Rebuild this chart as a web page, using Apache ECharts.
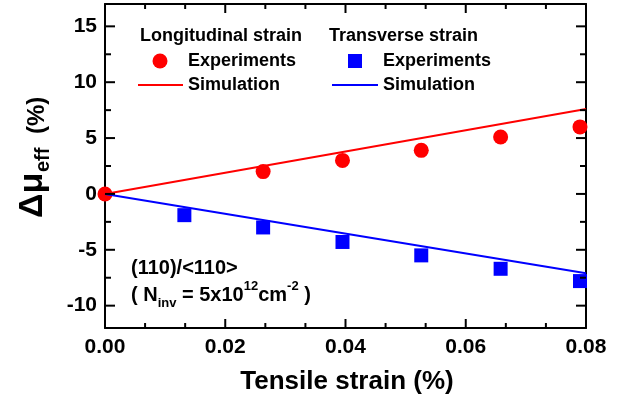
<!DOCTYPE html>
<html>
<head>
<meta charset="UTF-8">
<title>Tensile strain vs mobility</title>
<script src="https://cdn.jsdelivr.net/npm/echarts@6/dist/echarts.min.js"></script>
<style>
  html, body { margin: 0; padding: 0; background: #fff; }
  #main { width: 624px; height: 407px; }
</style>
</head>
<body>
<div id="main"></div>
<script>
// strain values (%) where the measurements were taken
var longStrain = [0, 0.0263, 0.0395, 0.0526, 0.0658, 0.079];
var longExp = [0, 2.0, 3.0, 3.9, 5.1, 6.0];
var transStrain = [0.0132, 0.0263, 0.0395, 0.0526, 0.0658, 0.079];
var transExp = [-1.9, -3.0, -4.3, -5.5, -6.7, -7.8];
// simulation lines
var simStrain = [0, 0.08];
var longSim = [0, 7.6];
var transSim = [0, -7.1];
// ticks
var xMajor = [0, 0.02, 0.04, 0.06, 0.08];
var yMajor = [-10, -5, 0, 5, 10, 15];
var yMinor = [-7.5, -2.5, 2.5, 7.5, 12.5];
var X_MIN = 0, X_MAX = 0.08, Y_MIN = -12, Y_MAX = 17;

function pairs(xs, ys) {
  return xs.map(function (x, i) { return [x, ys[i]]; });
}

// x minor ticks: two between each pair of major ticks
var xMinor = [];
for (var i = 0; i < xMajor.length - 1; i++) {
  var step = (xMajor[i + 1] - xMajor[i]) / 3;
  xMinor.push(xMajor[i] + step, xMajor[i] + 2 * step);
}

// inward tick marks on all four sides of the frame
var ticks = [];
function addTicks(vals, side, len) {
  vals.forEach(function (v) { ticks.push({ v: v, side: side, len: len }); });
}
addTicks(xMajor, 'bottom', 9); addTicks(xMinor, 'bottom', 5);
addTicks(xMajor, 'top', 9); addTicks(xMinor, 'top', 5);
addTicks(yMajor, 'left', 10); addTicks(yMinor, 'left', 6);
addTicks(yMajor, 'right', 10); addTicks(yMinor, 'right', 6);

var FONT = '"Liberation Sans", Arial, sans-serif';
var BLACK = '#000';
var chart = echarts.init(document.getElementById('main'));

var tickLabel = { fontFamily: FONT, fontWeight: 'bold', fontSize: 21, color: BLACK };
var frameLine = { show: true, onZero: false, lineStyle: { color: BLACK, width: 2 } };

var txt = { fontFamily: FONT, fontWeight: 'bold', fontSize: 18, fill: BLACK, verticalAlign: 'middle' };
function label(x, y, s, extra) {
  return { type: 'text', x: x, y: y, style: Object.assign({ text: s }, txt, extra || {}) };
}

var graphics = [
  // legend block
  label(140, 36, 'Longitudinal strain'),
  { type: 'circle', shape: { cx: 160, cy: 61, r: 7.5 }, style: { fill: '#ff0000' } },
  label(188, 61, 'Experiments'),
  { type: 'line', shape: { x1: 138, y1: 85, x2: 183, y2: 85 }, style: { stroke: '#ff0000', lineWidth: 2 } },
  label(188, 85, 'Simulation'),
  label(329, 36, 'Transverse strain'),
  { type: 'rect', shape: { x: 348, y: 54, width: 14, height: 14 }, style: { fill: '#0000ff' } },
  label(383, 61, 'Experiments'),
  { type: 'line', shape: { x1: 332, y1: 85, x2: 378, y2: 85 }, style: { stroke: '#0000ff', lineWidth: 2 } },
  label(383, 85, 'Simulation'),
  // annotation
  label(131, 268, '(110)/<110>', { fontSize: 20 }),
  { type: 'text', x: 131, y: 280, style: {
      text: '{m|( N}{s|inv}{m| = 5x10}{u|12}{m|cm}{u|-2}{m| )}',
      verticalAlign: 'top', fill: BLACK,
      rich: {
        m: { fontFamily: FONT, fontWeight: 'bold', fontSize: 20, lineHeight: 30, color: BLACK },
        s: { fontFamily: FONT, fontWeight: 'bold', fontSize: 13, lineHeight: 10, verticalAlign: 'bottom', color: BLACK },
        u: { fontFamily: FONT, fontWeight: 'bold', fontSize: 13, lineHeight: 17, verticalAlign: 'top', color: BLACK }
      }
  } },
  // y axis title, rotated
  { type: 'group', x: 45, y: 218, rotation: Math.PI / 2, children: [
    { type: 'text', x: 0, y: -12, style: { text: '\u0394\u03bc', fontFamily: FONT, fontWeight: 'bold', fontSize: 34, fill: BLACK, verticalAlign: 'middle' } },
    { type: 'text', x: 46, y: -2, style: { text: 'eff', fontFamily: FONT, fontWeight: 'bold', fontSize: 20, fill: BLACK, verticalAlign: 'middle' } },
    { type: 'text', x: 84, y: -8, style: { text: '(%)', fontFamily: FONT, fontWeight: 'bold', fontSize: 24, fill: BLACK, verticalAlign: 'middle' } }
  ] },
  // x axis title
  { type: 'text', x: 347, y: 382, style: { text: 'Tensile strain (%)', fontFamily: FONT, fontWeight: 'bold', fontSize: 26, fill: BLACK, align: 'center', verticalAlign: 'middle' } }
];

var option = {
  animation: false,
  grid: { left: 105, right: 38, top: 4, bottom: 79 },
  xAxis: [
    { type: 'value', position: 'bottom', min: X_MIN, max: X_MAX, interval: 0.02,
      axisLine: frameLine, axisTick: { show: false },
      axisLabel: Object.assign({ margin: 9, formatter: function (v) { return v.toFixed(2); } }, tickLabel),
      splitLine: { show: false } },
    { type: 'value', position: 'top', min: X_MIN, max: X_MAX, interval: 0.02,
      axisLine: frameLine, axisTick: { show: false }, axisLabel: { show: false }, splitLine: { show: false } }
  ],
  yAxis: [
    { type: 'value', position: 'left', min: Y_MIN, max: Y_MAX,
      axisLine: frameLine, axisTick: { show: false },
      axisLabel: Object.assign({ margin: 8, customValues: yMajor }, tickLabel),
      splitLine: { show: false } },
    { type: 'value', position: 'right', min: Y_MIN, max: Y_MAX,
      axisLine: frameLine, axisTick: { show: false }, axisLabel: { show: false }, splitLine: { show: false } }
  ],
  series: [
    { name: 'Longitudinal experiments', type: 'scatter', symbol: 'circle', symbolSize: 15,
      itemStyle: { color: '#ff0000', opacity: 1 }, data: pairs(longStrain, longExp), z: 2 },
    { name: 'Transverse experiments', type: 'scatter', symbol: 'rect', symbolSize: 14,
      itemStyle: { color: '#0000ff', opacity: 1 }, data: pairs(transStrain, transExp), z: 2 },
    { name: 'Longitudinal simulation', type: 'line', showSymbol: false,
      lineStyle: { color: '#ff0000', width: 2 }, data: pairs(simStrain, longSim), z: 3 },
    { name: 'Transverse simulation', type: 'line', showSymbol: false,
      lineStyle: { color: '#0000ff', width: 2 }, data: pairs(simStrain, transSim), z: 3 }
  ],
  graphic: graphics
};

chart.setOption(option);

// place tick marks through the chart's own scales
var dir = { bottom: [0, -1], top: [0, 1], left: [1, 0], right: [-1, 0] };
var tickMarks = ticks.map(function (t) {
  var val;
  if (t.side === 'bottom') val = [t.v, Y_MIN];
  else if (t.side === 'top') val = [t.v, Y_MAX];
  else if (t.side === 'left') val = [X_MIN, t.v];
  else val = [X_MAX, t.v];
  var p = chart.convertToPixel({ xAxisIndex: 0, yAxisIndex: 0 }, val);
  var d = dir[t.side];
  return {
    type: 'line', z: 10, silent: true,
    shape: { x1: p[0], y1: p[1], x2: p[0] + d[0] * t.len, y2: p[1] + d[1] * t.len },
    style: { stroke: BLACK, lineWidth: 2 }
  };
});
chart.setOption({ graphic: graphics.concat(tickMarks) });
</script>
</body>
</html>
